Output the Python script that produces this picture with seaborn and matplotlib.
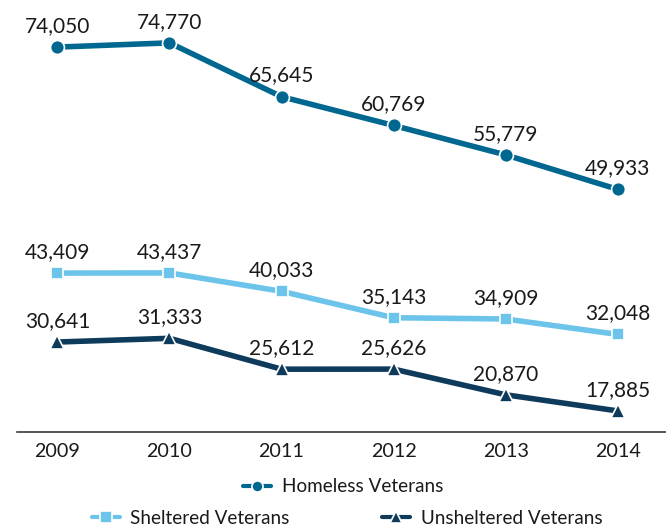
import matplotlib
matplotlib.use("Agg")
import matplotlib.pyplot as plt
import seaborn as sns
import pandas as pd
from matplotlib.ticker import FixedLocator

# Point-in-time counts of veterans experiencing homelessness
years = ["2009", "2010", "2011", "2012", "2013", "2014"]
homeless = [74050, 74770, 65645, 60769, 55779, 49933]
sheltered = [43409, 43437, 40033, 35143, 34909, 32048]
unsheltered = [30641, 31333, 25612, 25626, 20870, 17885]

c_home = "#006890"
c_shel = "#6cc4ea"
c_unsh = "#0e3a5c"
txt = "#1a1a1a"

sns.set_style("white")
plt.rcParams["font.family"] = ["Lato", "DejaVu Sans"]

idx = list(range(len(years)))
df = pd.DataFrame({"i": idx, "homeless": homeless,
                   "sheltered": sheltered, "unsheltered": unsheltered})

fig = plt.figure(figsize=(6.66, 5.26), dpi=100)
ax = fig.add_axes([17 / 666, 1 - 432 / 526, 649 / 666, 432 / 526])
ax2 = ax.twinx()

lw = 4.0
sns.lineplot(data=df, x="i", y="sheltered", ax=ax, color=c_shel, lw=lw,
             marker="s", markersize=9, markeredgecolor="white",
             markeredgewidth=1.2, label="Sheltered Veterans", legend=False)
sns.lineplot(data=df, x="i", y="unsheltered", ax=ax, color=c_unsh, lw=lw,
             marker="^", markersize=10, markeredgecolor="white",
             markeredgewidth=1.2, label="Unsheltered Veterans", legend=False)
sns.lineplot(data=df, x="i", y="homeless", ax=ax2, color=c_home, lw=lw,
             marker="o", markersize=10, markeredgecolor="white",
             markeredgewidth=1.2, label="Homeless Veterans", legend=False)

# value labels above each point
for a, vals in ((ax, sheltered), (ax, unsheltered), (ax2, homeless)):
    for i, v in zip(idx, vals):
        a.annotate(f"{v:,}", (i, v), xytext=(0, 8), textcoords="offset points",
                   ha="center", va="bottom", fontsize=15, color=txt)

ax.set_xlim(-0.36, 5.43)
ax.set_ylim(13981, 93981)
ax2.set_ylim(8814, 82034)

for a in (ax, ax2):
    for s in ("top", "right", "left"):
        a.spines[s].set_visible(False)
    a.set_ylabel("")
    a.set_yticks([])
ax2.spines["bottom"].set_visible(False)

ax.spines["bottom"].set_color("#3a3a3a")
ax.spines["bottom"].set_linewidth(1.2)
ax.set_xlabel("")
ax.set_xticks(idx)
ax.set_xticklabels(years, fontsize=14.2, color=txt)
ax.xaxis.set_minor_locator(FixedLocator([i + 0.5 for i in idx[:-1]]))
ax.tick_params(axis="x", which="major", length=0, pad=8)
ax.tick_params(axis="x", which="minor", direction="out", length=23,
               width=1.2, color="#3a3a3a")

h_home = ax2.get_lines()[0]
h_shel, h_unsh = ax.get_lines()[0], ax.get_lines()[1]

leg_kw = dict(frameon=False, fontsize=13.6, handlelength=1.5,
              handletextpad=0.55, labelcolor=txt, borderpad=0, borderaxespad=0)
leg1 = fig.legend(handles=[h_home], labels=["Homeless Veterans"],
                  loc="center", bbox_to_anchor=(343 / 666, 1 - 487 / 526),
                  **leg_kw)
leg2 = fig.legend(handles=[h_shel, h_unsh],
                  labels=["Sheltered Veterans", "Unsheltered Veterans"],
                  ncol=2, columnspacing=4.9, loc="center",
                  bbox_to_anchor=(347 / 666, 1 - 518 / 526), **leg_kw)
for leg in (leg1, leg2):
    for ln in leg.get_lines():
        ln.set_linewidth(3)
        ln.set_markersize(8)

fig.savefig("out.png", dpi=100)
